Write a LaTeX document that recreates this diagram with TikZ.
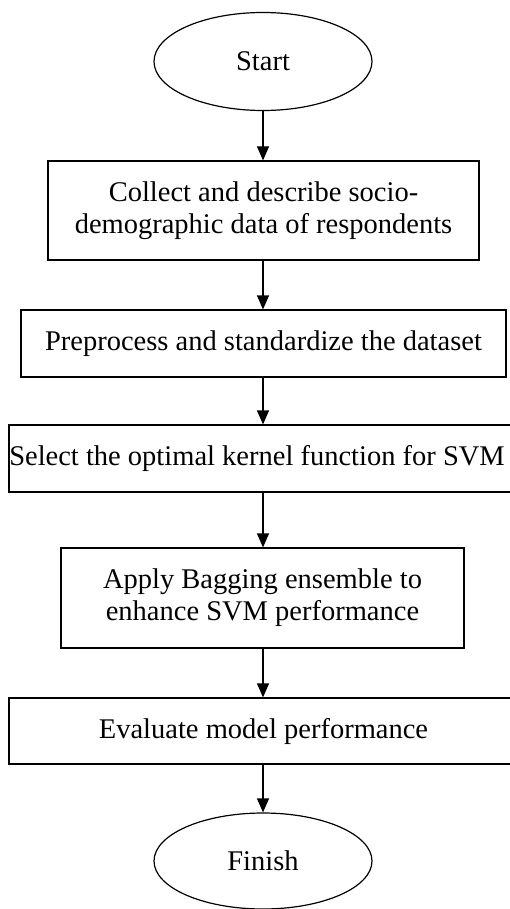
\documentclass[tikz,border=0pt]{standalone}
\usepackage{fontspec}
\setmainfont{Liberation Serif}
\usetikzlibrary{arrows.meta,shapes.geometric}
\begin{document}
\begin{tikzpicture}[x=1pt,y=1pt,
  every node/.style={font=\fontsize{28.5}{32}\selectfont, inner sep=0pt},
  term/.style={draw, ellipse, line width=1.2pt, minimum width=218pt, minimum height=98pt},
  procbox/.style={draw, rectangle, line width=1.2pt, align=center},
  arr/.style={line width=1.2pt, -{Triangle[length=14pt,width=12pt]}}]
\useasboundingbox (0,0) rectangle (510,-909);
\node[term] (start) at (263,-61.5) {Start};
\node[procbox, minimum width=431pt, minimum height=99pt] (b1) at (263.5,-210.5)
  {Collect and describe socio-\\demographic data of respondents};
\node[procbox, minimum width=485pt, minimum height=67pt] (b2) at (263.5,-343.5)
  {Preprocess and standardize the dataset};
\node[procbox, minimum width=509pt, minimum height=67pt] (b3) at (263.5,-458.5) {};
\node (b3t) at (257,-458.5) {Select the optimal kernel function for SVM};
\node[procbox, minimum width=403pt, minimum height=100pt] (b4) at (262.5,-598)
  {Apply Bagging ensemble to\\enhance SVM performance};
\node[procbox, minimum width=509pt, minimum height=66pt] (b5) at (263.5,-731)
  {Evaluate model performance};
\node[term, minimum height=96pt] (finish) at (263,-861) {Finish};
\draw[arr] (start.south) -- (start.south |- b1.north);
\draw[arr] (start.south |- b1.south) -- (start.south |- b2.north);
\draw[arr] (start.south |- b2.south) -- (start.south |- b3.north);
\draw[arr] (start.south |- b3.south) -- (start.south |- b4.north);
\draw[arr] (start.south |- b4.south) -- (start.south |- b5.north);
\draw[arr] (start.south |- b5.south) -- (finish.north);
\end{tikzpicture}
\end{document}
